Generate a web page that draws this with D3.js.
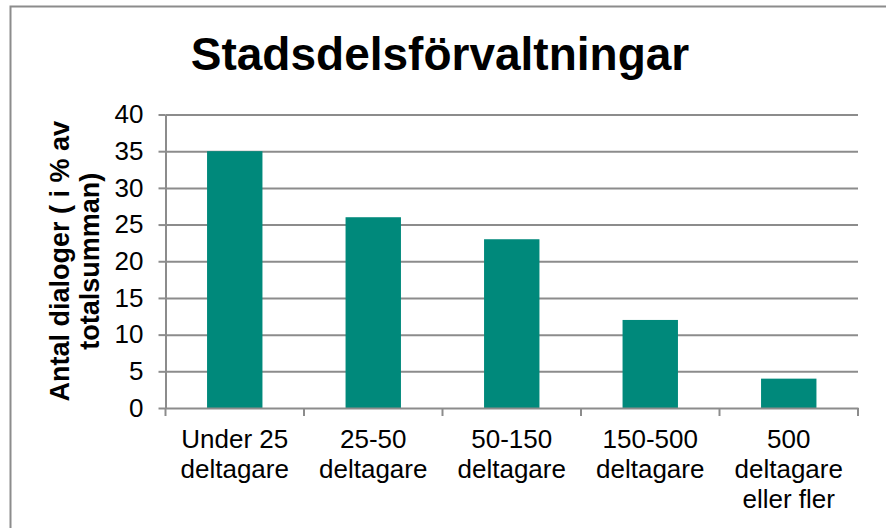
<!DOCTYPE html>
<html>
<head>
<meta charset="utf-8">
<script src="https://cdn.jsdelivr.net/npm/d3@7"></script>
<style>
  body { margin: 0; background: #fff; }
  #graf { width: 886px; height: 528px; }
  text { font-family: "Liberation Sans", Arial, sans-serif; fill: #000; }
  .ejes path, .ejes line { stroke: #8c8c8c; stroke-width: 2; }
  .grid line { stroke: #8c8c8c; stroke-width: 2; }
  .grid path { display: none; }
</style>
</head>
<body>
<div id="graf"></div>
<script>
// Data
const titulo = "Stadsdelsförvaltningar"
const tituloY = ["Antal dialoger ( i % av", "totalsumman)"]
const categorias = ["Under 25 deltagare", "25-50 deltagare", "50-150 deltagare", "150-500 deltagare", "500 deltagare eller fler"]
const etiquetas = [
  ["Under 25", "deltagare"],
  ["25-50", "deltagare"],
  ["50-150", "deltagare"],
  ["150-500", "deltagare"],
  ["500", "deltagare", "eller fler"]
]
const valores = [35, 26, 23, 12, 4]
const ticksY = [0, 5, 10, 15, 20, 25, 30, 35, 40]

const anchoTotal = 886
const altoTotal = 528
const margins = { left: 165.5, top: 114.5, right: 28, bottom: 120 }
const ancho = anchoTotal - margins.left - margins.right
const alto = altoTotal - margins.top - margins.bottom

const data = categorias.map((c, i) => ({ cat: c, valor: valores[i], lineas: etiquetas[i] }))

const svg = d3.select("#graf")
  .append("svg")
  .attr("width", anchoTotal)
  .attr("height", altoTotal)

// marco
svg.append("rect")
  .attr("x", 10.5)
  .attr("y", 6.5)
  .attr("width", 900)
  .attr("height", 600)
  .attr("fill", "none")
  .attr("stroke", "#8c8c8c")
  .attr("stroke-width", 2)

svg.append("text")
  .attr("x", 440)
  .attr("y", 70)
  .attr("text-anchor", "middle")
  .attr("font-size", 46)
  .attr("font-weight", "bold")
  .text(titulo)

const g = svg.append("g")
  .attr("transform", `translate(${margins.left}, ${margins.top})`)

// Escaladores
const y = d3.scaleLinear()
  .domain([0, 40])
  .range([alto, 0])

const x = d3.scaleBand()
  .domain(categorias)
  .range([0, ancho])
  .paddingInner(0)
  .paddingOuter(0)

const anchoBarra = x.bandwidth() / 2.5

// grid
g.append("g")
  .attr("class", "grid")
  .call(d3.axisLeft(y).tickValues(ticksY.slice(1)).tickSize(-ancho).tickFormat(""))

// barras
g.selectAll("rect.barra")
  .data(data)
  .join("rect")
  .attr("class", "barra")
  .attr("x", (d) => x(d.cat) + (x.bandwidth() - anchoBarra) / 2)
  .attr("y", (d) => y(d.valor))
  .attr("width", anchoBarra)
  .attr("height", (d) => alto - y(d.valor))
  .attr("fill", "#00897b")

// Ejes
const yAxisGroup = g.append("g")
  .attr("class", "ejes")
  .call(d3.axisLeft(y).tickValues(ticksY).tickSize(7).tickSizeOuter(0).tickPadding(15))
yAxisGroup.selectAll("text").attr("font-size", 26).attr("fill", "#000")

const xAxisGroup = g.append("g")
  .attr("class", "ejes")
  .attr("transform", `translate(0, ${alto})`)
  .call(d3.axisBottom(x).tickSize(0).tickSizeOuter(0).tickFormat(""))

// marcas en los bordes de categoria
const bordes = [0].concat(categorias.map((c) => x(c) + x.bandwidth()))
xAxisGroup.selectAll("line.borde")
  .data(bordes)
  .join("line")
  .attr("class", "borde")
  .attr("x1", (d) => d)
  .attr("x2", (d) => d)
  .attr("y1", 0)
  .attr("y2", 8)

// etiquetas de categoria
const etq = g.append("g")
  .attr("transform", `translate(0, ${alto})`)
  .selectAll("text")
  .data(data)
  .join("text")
  .attr("text-anchor", "middle")
  .attr("font-size", 26)
  .attr("x", (d) => x(d.cat) + x.bandwidth() / 2)
etq.selectAll("tspan")
  .data((d) => d.lineas)
  .join("tspan")
  .attr("x", function () { return d3.select(this.parentNode).attr("x") })
  .attr("y", (d, i) => 40 + i * 30)
  .text((d) => d)

// titulo eje Y
const ty = svg.append("text")
  .attr("transform", `translate(0, ${margins.top + alto / 2}) rotate(-90)`)
  .attr("text-anchor", "middle")
  .attr("font-size", 27)
  .attr("font-weight", "bold")
ty.selectAll("tspan")
  .data(tituloY)
  .join("tspan")
  .attr("x", 0)
  .attr("y", (d, i) => 69 + i * 30)
  .text((d) => d)
</script>
</body>
</html>
